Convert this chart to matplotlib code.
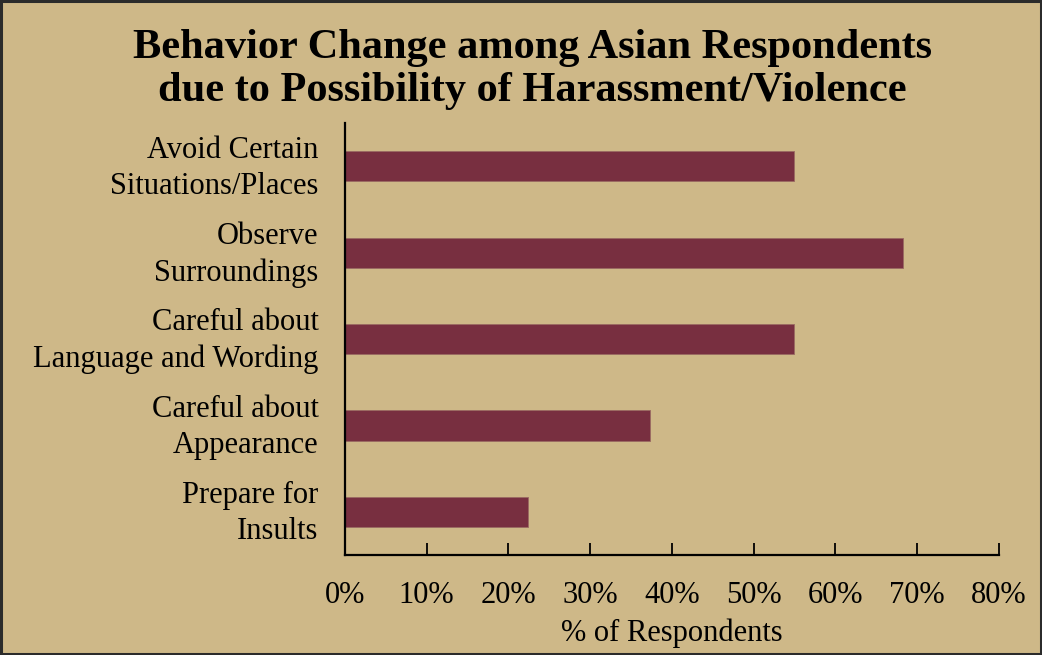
import matplotlib
matplotlib.use("Agg")
import matplotlib.pyplot as plt
import matplotlib.transforms as mtransforms
from matplotlib.patches import Rectangle

plt.rcParams['font.family'] = ['Liberation Serif', 'DejaVu Serif']

# survey results, top to bottom
categories = [
    "Avoid Certain\nSituations/Places",
    "Observe\nSurroundings",
    "Careful about\nLanguage and Wording",
    "Careful about\nAppearance",
    "Prepare for\nInsults",
]
percents = [54.9, 68.3, 54.9, 37.3, 22.4]
xticks = [0, 10, 20, 30, 40, 50, 60, 70, 80]
xtick_labels = ["%d%%" % t for t in xticks]

bg = "#CEB888"
garnet = "#782F40"

fig = plt.figure(figsize=(10.42, 6.55), dpi=100, facecolor=bg)
ax = fig.add_axes([0.331, 0.1527, 0.6277, 0.6593])
ax.set_facecolor(bg)

ypos = list(range(len(categories)))
ax.barh(ypos, percents, height=0.35, color=garnet, edgecolor="#9a6a62", linewidth=0.6)

ax.set_ylim(len(categories) - 0.5, -0.5)
ax.set_xlim(0, 80)
ax.set_yticks(ypos)
ax.set_yticklabels(categories, fontsize=22, linespacing=1.32)
ax.set_xticks(xticks)
ax.set_xticklabels(xtick_labels, fontsize=22)
ax.tick_params(axis="y", length=0, pad=19)
ax.tick_params(axis="x", direction="in", length=9, width=1.3, pad=19)
ax.set_xlabel("% of Respondents", fontsize=22, labelpad=6)

# category labels sit a little above the bar centres
lift = mtransforms.ScaledTranslation(0, 5 / 100, fig.dpi_scale_trans)
for lbl in ax.get_yticklabels():
    lbl.set_transform(lbl.get_transform() + lift)

for side in ["top", "right"]:
    ax.spines[side].set_visible(False)
for side in ["left", "bottom"]:
    ax.spines[side].set_linewidth(1.6)
    ax.spines[side].set_color("black")

fig.text(0.511, 0.894, "Behavior Change among Asian Respondents\ndue to Possibility of Harassment/Violence",
         ha="center", va="center", fontsize=30.5, fontweight="bold", linespacing=1.2)

# outer frame
fig.patches.append(Rectangle((0.001, 0.0015), 0.998, 0.997, transform=fig.transFigure,
                             fill=False, edgecolor="#2b2b2b", linewidth=2.2))

fig.savefig("out.png", dpi=100, facecolor=bg)
